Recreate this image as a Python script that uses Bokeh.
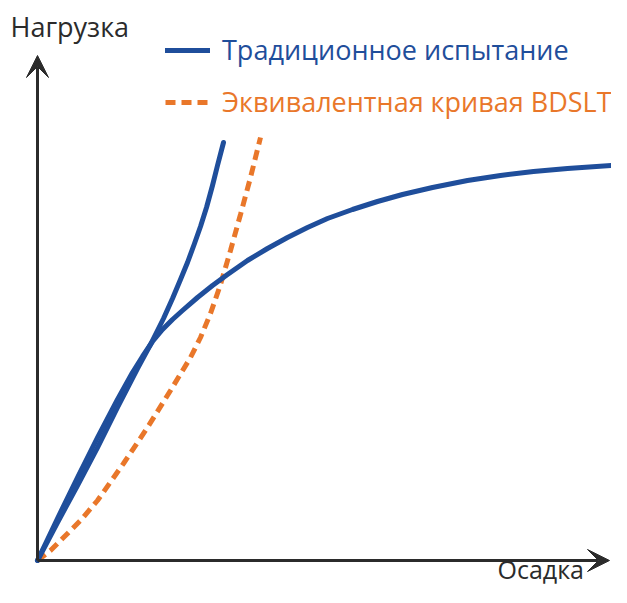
from bokeh.plotting import figure
from bokeh.models import Range1d, Arrow, VeeHead, Label, Legend, LegendItem
from bokeh.embed import file_html
from bokeh.resources import INLINE

# Data (arbitrary units: settlement on x, load on y)
sat_settlement = [0, 20, 40, 60, 80, 95, 105, 115, 125, 135, 145, 160, 175, 190, 210, 230, 250,
                  270, 290, 315, 340, 365, 395, 430, 463, 496, 530, 575]
sat_load = [0, 42, 83, 123, 161, 188, 204, 219, 231, 241, 250, 263, 275, 286, 300, 312, 323,
            333, 342, 351, 359, 366, 373, 380, 385, 389, 392, 395]

steep_settlement = [0, 20, 40, 60, 80, 100, 113, 126, 135, 143, 150, 157, 163, 169, 175, 180, 186]
steep_load = [0, 38, 75, 113, 153, 192, 216, 242, 262, 281, 298, 317, 334, 353, 375, 395, 418]

bdslt_settlement = [0, 13, 26, 43, 60, 86, 110, 133, 153, 163, 173, 183, 193, 203, 213, 223]
bdslt_load = [0, 10, 23, 40, 60, 97, 133, 170, 203, 223, 247, 276, 310, 346, 383, 423]

label_traditional = "Традиционное испытание"
label_bdslt = "Эквивалентная кривая BDSLT"
y_title = "Нагрузка"
x_title = "Осадка"

BLUE = "#1f4e9b"
ORANGE = "#e9772a"
DARK = "#2b2b2b"
FONT = "Open Sans"

p = figure(width=611, height=587, output_backend="svg", toolbar_location=None,
           x_axis_type=None, y_axis_type=None, min_border=0,
           x_range=Range1d(-37, 574), y_range=Range1d(-27, 560))
p.grid.visible = False
p.outline_line_color = None
p.background_fill_color = "white"
p.border_fill_color = "white"

# axes with arrow heads
p.add_layout(Arrow(x_start=0, y_start=0, x_end=572, y_end=0, line_width=3, line_color=DARK,
                   end=VeeHead(size=22, fill_color=DARK, line_color=DARK)))
p.add_layout(Arrow(x_start=0, y_start=0, x_end=0, y_end=505, line_width=3, line_color=DARK,
                   end=VeeHead(size=22, fill_color=DARK, line_color=DARK)))

r_bd = p.line(bdslt_settlement, bdslt_load, line_color=ORANGE, line_width=5, line_dash="10 6")
r_sat = p.line(sat_settlement, sat_load, line_color=BLUE, line_width=5, line_cap="round", line_join="round")
r_st = p.line(steep_settlement, steep_load, line_color=BLUE, line_width=5, line_cap="round", line_join="round")

common = dict(background_fill_alpha=0, border_line_alpha=0, padding=0, margin=0,
              glyph_width=45, glyph_height=26, label_height=26, label_standoff=12,
              label_text_font=FONT, label_text_font_size="27px")
leg1 = Legend(items=[LegendItem(label=label_traditional, renderers=[r_sat])],
              location=(165, 519), label_text_color=BLUE, **common)
leg2 = Legend(items=[LegendItem(label=label_bdslt, renderers=[r_bd])],
              location=(165, 467), label_text_color=ORANGE, **common)
p.add_layout(leg1)
p.add_layout(leg2)

p.add_layout(Label(x=-27, y=534, text=y_title, text_font=FONT, text_font_size="27px",
                   text_color=DARK, text_baseline="alphabetic"))
p.add_layout(Label(x=460, y=-8, text=x_title, text_font=FONT, text_font_size="25px",
                   text_color=DARK, text_baseline="alphabetic"))

open("out.html", "w").write(file_html(p, INLINE))
